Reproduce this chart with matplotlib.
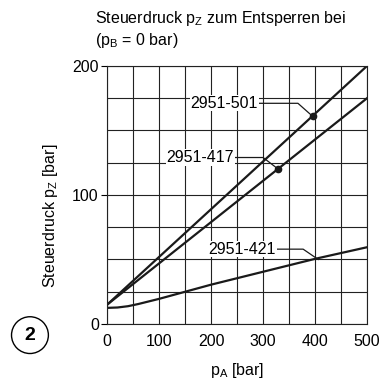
import numpy as np
import matplotlib.pyplot as plt

plt.rcParams['font.family'] = ['Liberation Sans', 'DejaVu Sans']
plt.rcParams['mathtext.fontset'] = 'custom'
plt.rcParams['mathtext.rm'] = 'Liberation Sans'

# data
pA = [0, 500]
line_501 = [15, 200]
line_417 = [15, 175]
pA_421 = [0, 20, 40, 60, 80, 100, 150, 200, 250, 300, 350, 400, 450, 500]
line_421 = [12.5, 12.8, 13.8, 15.5, 17.5, 19.5, 25, 30.5, 35.5, 40.5, 45.5, 50.5, 55, 59.5]

labels = ['2951-501', '2951-417', '2951-421']
dots = [(395, 161), (329, 120)]
label_pos = [(290, 171), (244, 129), (325, 58)]
leader_mid = [(367, 171), (300, 129), (377, 58)]
leader_end = [(395, 161), (329, 120), (406, 50)]

fs = 11.5

fig = plt.figure(figsize=(3.84, 3.83), dpi=100)
ax = fig.add_axes([0.279, 0.154, 0.677, 0.674])

ax.plot(pA, line_501, color='#1a1a1a', lw=1.6)
ax.plot(pA, line_417, color='#1a1a1a', lw=1.6)
ax.plot(pA_421, line_421, color='#1a1a1a', lw=1.6)
for x, y in dots:
    ax.plot(x, y, 'o', color='#1a1a1a', ms=4.5)

for lab, (tx, ty), (mx, my), (ex, ey) in zip(labels, label_pos, leader_mid, leader_end):
    ax.plot([tx, mx, ex], [ty, my, ey], color='#1a1a1a', lw=0.9)
    ax.text(tx, ty, lab, ha='right', va='center', fontsize=fs,
            bbox=dict(facecolor='white', edgecolor='none', pad=0.5))

ax.set_xlim(0, 500)
ax.set_ylim(0, 200)
ax.set_xticks(np.arange(0, 501, 100))
ax.set_xticks(np.arange(0, 501, 50), minor=True)
ax.set_yticks([0, 100, 200])
ax.set_yticks(np.arange(0, 201, 25), minor=True)
ax.grid(True, which='both', color='#222222', lw=0.8)
ax.set_axisbelow(True)
ax.tick_params(axis='x', which='both', length=0, pad=7, labelsize=fs)
ax.tick_params(axis='y', which='major', length=4, width=0.8, labelsize=fs, pad=2)
ax.tick_params(axis='y', which='minor', length=0)
for s in ax.spines.values():
    s.set_linewidth(0.8)
    s.set_color('#222222')

ax.set_xlabel(r'p$_\mathregular{A}$ [bar]', fontsize=fs, labelpad=9)
ax.set_ylabel(r'Steuerdruck p$_\mathregular{Z}$ [bar]', fontsize=fs)
ax.yaxis.set_label_coords(-0.18, 0.42)

fig.text(0.247, 0.953, r'Steuerdruck p$_\mathregular{Z}$ zum Entsperren bei', fontsize=fs, va='center')
fig.text(0.247, 0.895, r'(p$_\mathregular{B}$ = 0 bar)', fontsize=fs, va='center')

circ = plt.Circle((0.078, 0.125), 0.048, transform=fig.transFigure, fill=False, lw=1.0, color='black')
fig.patches.append(circ)
fig.text(0.078, 0.125, '2', fontsize=14, fontweight='bold', ha='center', va='center')

fig.savefig('out.png', dpi=100)
